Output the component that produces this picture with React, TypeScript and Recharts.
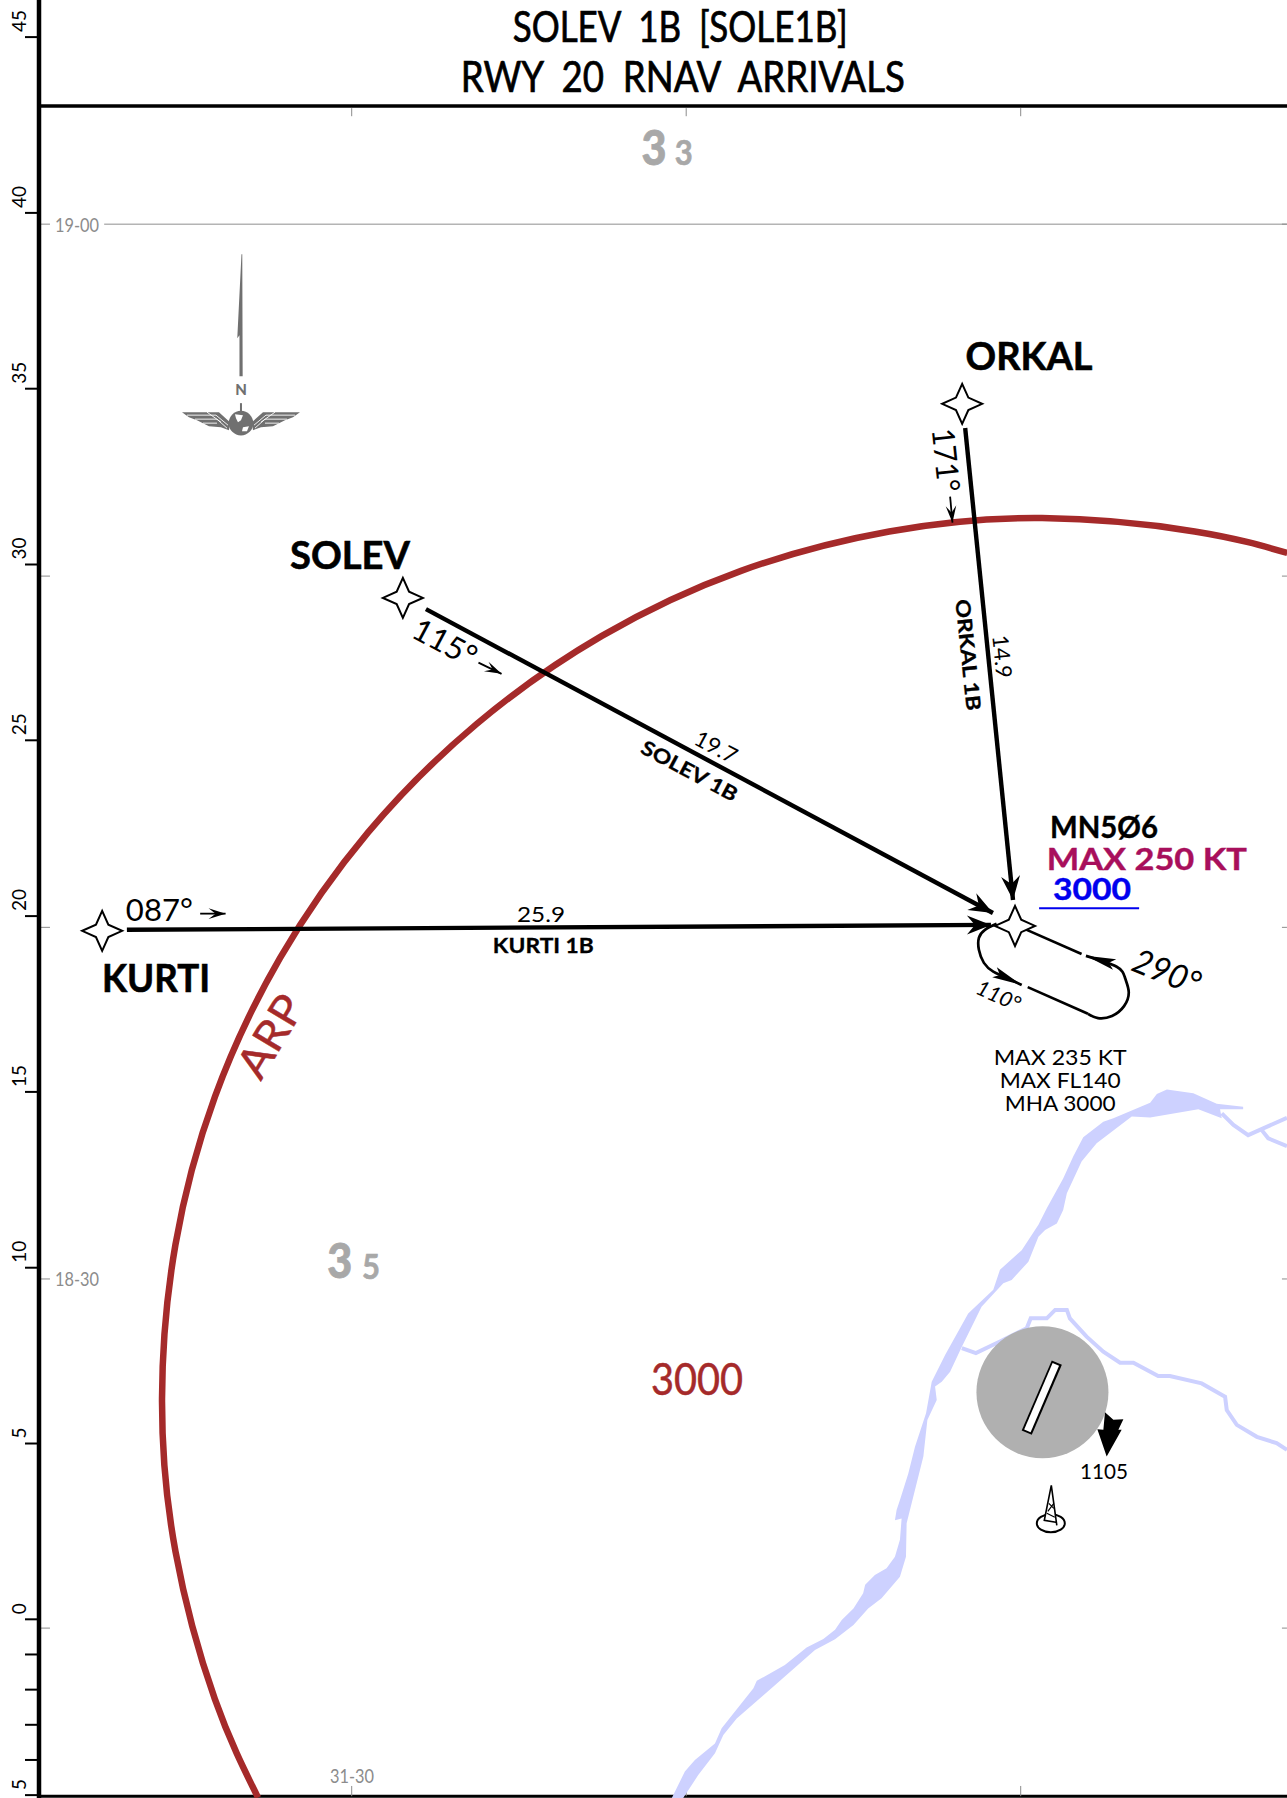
import { ComposedChart, Line, ReferenceLine, Scatter, XAxis, YAxis } from "recharts";

// x is minutes of longitude east of 31-00, y is the NM ruler on the left edge
const xDomain = [20.652, 57.961];
const yDomain = [-5.082, 46.055];
const rulerTicks = [45, 40, 35, 30, 25, 20, 15, 10, 5, 0, -1, -2, -3, -4, -5];
const latTicks = [39.68, 29.67, 19.68, 9.68, -0.25];
const lonTicks = [30, 40, 50];

const arpArc = [
  { x: 57.97, y: 30.33 }, { x: 55.2, y: 30.94 }, { x: 50.64, y: 31.32 }, { x: 46.07, y: 30.94 },
  { x: 41.64, y: 29.82 }, { x: 37.48, y: 27.97 }, { x: 33.73, y: 25.46 }, { x: 30.49, y: 22.38 },
  { x: 27.86, y: 18.81 }, { x: 25.91, y: 14.86 }, { x: 24.73, y: 10.65 }, { x: 24.33, y: 6.29 },
  { x: 24.73, y: 1.94 }, { x: 25.91, y: -2.27 }, { x: 27.2, y: -5.07 },
];

const fixes = [
  { name: "ORKAL", x: 48.25, y: 34.57 },
  { name: "SOLEV", x: 31.53, y: 29.05 },
  { name: "KURTI", x: 22.54, y: 19.58 },
  { name: "MN506", x: 49.83, y: 19.72 },
];

const orkalLeg = [{ x: 48.34, y: 33.88 }, { x: 49.77, y: 20.46 }];
const solevLeg = [{ x: 32.22, y: 28.73 }, { x: 49.17, y: 20.09 }];
const kurtiLeg = [{ x: 23.28, y: 19.61 }, { x: 49.11, y: 19.75 }];
const legTips = [
  { x: 49.77, y: 20.46, heading: 84.2 },
  { x: 49.17, y: 20.09, heading: 28.2 },
  { x: 49.11, y: 19.75, heading: -0.3 },
];

const holdInbound = [{ x: 50.13, y: 19.63 }, { x: 51.82, y: 18.92 }];
const holdEastTurn = [
  { x: 51.95, y: 18.87 }, { x: 52.87, y: 18.56 }, { x: 53.12, y: 18.24 }, { x: 53.23, y: 17.84 },
  { x: 53.09, y: 17.44 }, { x: 52.73, y: 17.16 }, { x: 52.31, y: 17.1 }, { x: 52.01, y: 17.22 },
];
const holdOutbound = [{ x: 52.01, y: 17.22 }, { x: 50.21, y: 17.98 }];
const holdWestTurn = [
  { x: 50.03, y: 18.04 }, { x: 49.53, y: 18.27 }, { x: 49.18, y: 18.42 }, { x: 48.9, y: 18.67 },
  { x: 48.75, y: 19.04 }, { x: 48.75, y: 19.38 }, { x: 48.93, y: 19.61 }, { x: 49.28, y: 19.78 },
];
const holdTips = [
  { x: 51.95, y: 18.87, heading: 197 },
  { x: 50.03, y: 18.04, heading: 25 },
];

const bearingArrows = [
  [{ x: 25.47, y: 20.07 }, { x: 26.23, y: 20.07 }],
  [{ x: 33.79, y: 27.21 }, { x: 34.48, y: 26.89 }],
  [{ x: 47.89, y: 31.93 }, { x: 47.96, y: 31.19 }],
];
const bearingTips = [
  { x: 26.23, y: 20.07, heading: 0 },
  { x: 34.48, y: 26.89, heading: 25.8 },
  { x: 47.96, y: 31.19, heading: 85 },
];

const altitudeBar = [{ x: 50.55, y: 20.22 }, { x: 53.54, y: 20.22 }];
const airport = [{ x: 50.65, y: 6.46 }];
const runwayEdge = [{ x: 51.08, y: 7.3 }, { x: 50.18, y: 5.31 }];
const runwayFill = [{ x: 51.05, y: 7.25 }, { x: 50.2, y: 5.36 }];
const spotHeight = [{ x: 52.57, y: 4.63 }];
const mast = [{ x: 50.9, y: 2.73 }];
const northMark = [{ x: 26.69, y: 34.02 }];

const riverOutline = [
  [56.65, 14.58], [55.86, 14.66], [55.16, 14.96], [54.37, 15.07], [54.07, 14.94], [53.87, 14.69],
  [52.77, 14.25], [52.47, 14.15], [51.87, 13.71], [51.57, 13.16], [51.27, 12.54], [50.78, 11.69],
  [50.53, 11.22], [50.03, 10.5], [49.38, 9.94], [49.18, 9.37], [48.43, 8.7], [47.74, 7.52],
  [47.34, 6.76], [47.17, 5.86], [46.84, 4.91], [46.64, 4.15], [46.39, 3.39], [46.29, 3.11], [46.24, 2.82],
  [46.44, 2.87], [46.39, 2.26], [46.24, 1.78], [45.99, 1.45], [45.64, 1.26], [45.35, 0.98],
  [45.29, 0.74], [45.0, 0.31], [44.65, -0.02], [44.45, -0.3], [44.1, -0.56], [43.6, -0.8],
  [42.95, -1.3], [42.11, -1.75], [42.01, -1.96], [41.06, -3.1], [40.86, -3.53], [40.26, -4.0],
  [39.96, -4.33], [39.57, -5.08], [39.91, -5.08], [40.36, -4.43], [40.86, -3.81], [41.11, -3.29],
  [41.51, -2.82], [42.6, -1.92], [43.85, -0.87], [44.45, -0.57], [45.0, -0.16], [45.44, 0.31],
  [45.84, 0.6], [46.39, 1.21], [46.57, 1.78], [46.59, 2.73], [47.09, 4.63], [47.21, 5.67],
  [47.49, 6.24], [47.44, 6.62], [47.64, 6.76], [47.89, 7.04], [48.24, 7.75], [48.83, 8.89],
  [49.48, 9.56], [49.73, 9.65], [50.23, 10.17], [50.53, 10.88], [50.73, 11.07], [51.08, 11.26],
  [51.27, 11.64], [51.38, 12.12], [51.82, 13.02], [52.27, 13.54], [53.32, 14.3], [53.87, 14.27],
  [55.31, 14.51], [56.01, 14.25], [55.96, 14.51], [56.65, 14.51],
].map(([x, y]) => ({ x, y }));

const riverBranches = [
  [[56.01, 14.39], [56.36, 14.06], [56.8, 13.77], [57.15, 13.92], [57.96, 14.26]],
  [[57.2, 13.92], [57.4, 13.68], [57.96, 13.46]],
  [
    [48.24, 7.71], [48.66, 7.57], [49.38, 7.9], [50.18, 8.28], [50.3, 8.56], [50.78, 8.56], [51.03, 8.8],
    [51.38, 8.8], [51.47, 8.56], [51.97, 8.04], [52.47, 7.61], [52.97, 7.3], [53.37, 7.3], [54.11, 6.92],
    [54.46, 6.92], [55.41, 6.71], [56.11, 6.33], [56.16, 5.95], [56.46, 5.53], [57.06, 5.19], [57.65, 5.01],
    [57.96, 4.82],
  ],
].map((branch) => branch.map(([x, y]) => ({ x, y })));

const notes = [
  { text: "SOLEV  1B  [SOLE1B]", x: 39.82, y: 45.29, kind: "title", w: 335 },
  { text: "RWY  20  RNAV  ARRIVALS", x: 39.9, y: 43.87, kind: "title", w: 444 },
  { text: "3", x: 39.04, y: 41.86, kind: "msaBig", w: 25 },
  { text: "3", x: 39.93, y: 41.72, kind: "msaSmall", w: 18 },
  { text: "3", x: 29.64, y: 10.19, kind: "msaBig", w: 25 },
  { text: "5", x: 30.58, y: 10.03, kind: "msaSmall", w: 18 },
  { text: "3000", x: 40.32, y: 6.83, kind: "arpAlt", w: 92 },
  { text: "ARP", x: 27.56, y: 16.59, kind: "arp", w: 88, rot: -59 },
  { text: "SOLEV", x: 29.95, y: 30.26, kind: "fix", w: 120 },
  { text: "KURTI", x: 24.15, y: 18.23, kind: "fix", w: 108 },
  { text: "ORKAL", x: 50.25, y: 35.93, kind: "fix", w: 127 },
  { text: "087°", x: 24.25, y: 20.19, kind: "bearing", w: 67 },
  { text: "115°", x: 32.79, y: 27.78, kind: "bearing", w: 68, rot: 28 },
  { text: "171°", x: 47.77, y: 32.97, kind: "bearing", w: 64, rot: 84 },
  { text: "14.9", x: 49.45, y: 27.38, kind: "dist", w: 43, rot: 84 },
  { text: "ORKAL 1B", x: 48.43, y: 27.43, kind: "leg", w: 112, rot: 84 },
  { text: "19.7", x: 40.89, y: 24.81, kind: "dist", w: 45, rot: 28 },
  { text: "SOLEV 1B", x: 40.1, y: 24.13, kind: "leg", w: 106, rot: 28 },
  { text: "25.9", x: 35.66, y: 20.06, kind: "dist", w: 48 },
  { text: "KURTI 1B", x: 35.73, y: 19.15, kind: "leg", w: 101 },
  { text: "MN5Ø6", x: 52.49, y: 22.52, kind: "fixSmall", w: 108 },
  { text: "MAX 250 KT", x: 53.77, y: 21.64, kind: "speed", w: 200 },
  { text: "3000", x: 52.13, y: 20.77, kind: "alt", w: 78 },
  { text: "290°", x: 54.37, y: 18.42, kind: "holdBig", w: 70, rot: 22 },
  { text: "110°", x: 49.34, y: 17.74, kind: "holdSmall", w: 46, rot: 24 },
  { text: "MAX 235 KT", x: 51.18, y: 15.99, kind: "limit", w: 133 },
  { text: "MAX FL140", x: 51.18, y: 15.35, kind: "limit", w: 121 },
  { text: "MHA 3000", x: 51.18, y: 14.69, kind: "limit", w: 111 },
  { text: "1105", x: 52.49, y: 4.22, kind: "limit", w: 48 },
  { text: "19-00", x: 21.79, y: 39.66, kind: "grid", w: 44 },
  { text: "18-30", x: 21.79, y: 9.68, kind: "grid", w: 44 },
  { text: "31-30", x: 30.01, y: -4.46, kind: "grid", w: 44 },
];

const BROWN = "#a52a2a";
const RIVER = "#cdd1ff";
const GRATICULE = "#8c8c8c";
const SANS = "Lato, 'Open Sans', sans-serif";

const noteStyles: Record<string, any> = {
  title: { size: 42, weight: 400, fill: "#000", stroke: 0.7 },
  msaBig: { size: 48, weight: 900, fill: "#a8a8a8", stroke: 0.8 },
  msaSmall: { size: 34, weight: 700, fill: "#a8a8a8", stroke: 0.6 },
  arpAlt: { size: 44, weight: 400, fill: BROWN, stroke: 0.5 },
  arp: { size: 43, weight: 400, fill: BROWN, stroke: 0.5 },
  fix: { size: 38, weight: 700, fill: "#000", stroke: 0.6 },
  fixSmall: { size: 30, weight: 700, fill: "#000", stroke: 0.4 },
  bearing: { size: 31, weight: 400, fill: "#000" },
  dist: { size: 22, weight: 400, fill: "#000" },
  leg: { size: 20, weight: 700, fill: "#000", stroke: 0.3 },
  speed: { size: 31, weight: 700, fill: "#a80f5c", stroke: 0.4 },
  alt: { size: 31, weight: 700, fill: "#0000ee", stroke: 0.4 },
  holdBig: { size: 34, weight: 400, fill: "#000", italic: true },
  holdSmall: { size: 21, weight: 400, fill: "#000", italic: true },
  limit: { size: 22, weight: 400, fill: "#000" },
  grid: { size: 19, weight: 400, fill: GRATICULE },
};

function NoteShape(props: any) {
  const { cx, cy, payload } = props;
  const style = noteStyles[payload.kind];
  return (
    <text
      x={cx}
      y={cy}
      dy={style.size * 0.36}
      transform={payload.rot ? `rotate(${payload.rot} ${cx} ${cy})` : undefined}
      textAnchor="middle"
      textLength={payload.w}
      lengthAdjust="spacingAndGlyphs"
      fontFamily={SANS}
      fontSize={style.size}
      fontWeight={style.weight}
      fontStyle={style.italic ? "italic" : "normal"}
      fill={style.fill}
      stroke={style.stroke ? style.fill : "none"}
      strokeWidth={style.stroke ?? 0}
      style={{ whiteSpace: "pre" }}
    >
      {payload.text}
    </text>
  );
}

function RulerTick(props: any) {
  const { x, y, payload } = props;
  const value = payload.value;
  if (value % 5 !== 0) return <g />;
  return (
    <text
      transform={`translate(${x - 6.5} ${y - 5}) rotate(-90)`}
      dy={7}
      fontFamily={SANS}
      fontSize={19}
      fill="#000"
    >
      {Math.abs(value)}
    </text>
  );
}

function StarShape(props: any) {
  const { cx, cy } = props;
  const r = 20;
  const k = 6.2;
  return (
    <polygon
      transform={`translate(${cx} ${cy})`}
      points={`0,${-r} ${k},${-k} ${r},0 ${k},${k} 0,${r} ${-k},${k} ${-r},0 ${-k},${-k}`}
      fill="#fff"
      stroke="#000"
      strokeWidth={2}
      strokeLinejoin="miter"
    />
  );
}

function arrowHead(length: number, half: number, notch: number) {
  return function ArrowHead(props: any) {
    const { cx, cy, payload } = props;
    return (
      <polygon
        transform={`translate(${cx} ${cy}) rotate(${payload.heading})`}
        points={`0,0 ${-length},${-half} ${-notch},0 ${-length},${half}`}
        fill="#000"
      />
    );
  };
}

function AirportShape(props: any) {
  return <circle cx={props.cx} cy={props.cy} r={66} fill="#b0b0b0" />;
}

function SpotHeightShape(props: any) {
  return (
    <polygon
      transform={`translate(${props.cx} ${props.cy})`}
      points="-1.7,-44.3 6.7,-36.7 16.7,-37.3 11.7,-26.7 15,-26.7 0,0 -9.3,-27.3 -3.3,-26.7"
      fill="#000"
    />
  );
}

function MastShape(props: any) {
  return (
    <g transform={`translate(${props.cx} ${props.cy})`} fill="none" stroke="#000">
      <ellipse cx={0} cy={0} rx={14} ry={9} strokeWidth={2} />
      <path d="M0.5 -38L-6.5 -3L5 -1M0.5 -38L6 2" strokeWidth={1.6} fill="#fff" />
      <path d="M-2 -20L3 -15M3 -20L-3 -12M-4 -10L4 -6" strokeWidth={1.2} />
    </g>
  );
}

function NorthShape(props: any) {
  const wing = "M-59 -11L-22 -11L-11 -1L-12 7L-20 4L-32 3L-44 -3L-52 -6Z";
  return (
    <g transform={`translate(${props.cx} ${props.cy})`} fill="#707070">
      <polygon points="1.3,-169 1.7,-47 -1.5,-47 -1.5,-88 -3.7,-85 0.5,-169" />
      <text x={0} y={-28} textAnchor="middle" fontFamily={SANS} fontWeight={900} fontSize={15}>N</text>
      <rect x={-1} y={-20} width={2} height={10} />
      <path d={wing} />
      <path d={wing} transform="scale(-1 1)" />
      <g stroke="#fff" strokeWidth={0.9} fill="none">
        <path d="M-54 -8L-25 -8L-13 2M-46 -4L-24 -4L-14 5M-38 0L-24 0M-34 -11L-20 -1" />
        <path d="M54 -8L25 -8L13 2M46 -4L24 -4L14 5M38 0L24 0M34 -11L20 -1" />
      </g>
      <circle cx={0} cy={0} r={12.3} />
      <path d="M-6 -9L2 -8L0 -3L-3 -1L-5 -5ZM2 4L8 3L6 8L1 8Z" fill="#fff" />
    </g>
  );
}

// a Line has no fill of its own, so the last dot closes the outline into one polygon
function outlineDot(fill: string, count: number) {
  const seen: string[] = [];
  return (props: any) => {
    seen[props.index] = `${props.cx},${props.cy}`;
    if (props.index !== count - 1) return <g key={props.index} />;
    return <polygon key="outline" points={seen.join(" ")} fill={fill} stroke="none" />;
  };
}

function Stroke(props: any) {
  return (
    <Line
      data={props.data}
      dataKey="y"
      type={props.type ?? "linear"}
      stroke={props.stroke ?? "#000"}
      strokeWidth={props.width}
      dot={false}
      activeDot={false}
      legendType="none"
      isAnimationActive={false}
      zIndex={props.zIndex}
    />
  );
}

export default function App() {
  return (
    <div style={{ position: "absolute", left: 0, top: 0, width: 1287, height: 1798, background: "#fff", overflow: "hidden" }}>
      <ComposedChart width={1287} height={1798} margin={{ top: 0, right: 0, bottom: 0, left: 0 }}>
        <XAxis type="number" dataKey="x" domain={xDomain} allowDataOverflow hide />
        <YAxis
          type="number"
          dataKey="y"
          domain={yDomain}
          allowDataOverflow
          ticks={rulerTicks}
          interval={0}
          width={39}
          tickSize={14}
          tickMargin={0}
          axisLine={{ stroke: "#000", strokeWidth: 4.5 }}
          tickLine={{ stroke: "#000", strokeWidth: 2 }}
          tick={RulerTick}
        />

        <Line
          data={riverOutline}
          dataKey="y"
          stroke="none"
          dot={outlineDot(RIVER, riverOutline.length)}
          activeDot={false}
          legendType="none"
          isAnimationActive={false}
        />
        {riverBranches.map((branch) => Stroke({ data: branch, stroke: RIVER, width: 4 }))}

        <ReferenceLine y={43.04} stroke="#000" strokeWidth={3.5} />
        <ReferenceLine y={-5.03} stroke="#000" strokeWidth={3} />
        {Stroke({ data: [{ x: 22.6, y: 39.68 }, { x: 57.96, y: 39.68 }], stroke: "#b4b4b4", width: 1.5 })}
        {latTicks.map((lat) => Stroke({ data: [{ x: 20.71, y: lat }, { x: 20.98, y: lat }], stroke: GRATICULE, width: 1 }))}
        {latTicks.map((lat) => Stroke({ data: [{ x: 57.81, y: lat }, { x: 57.96, y: lat }], stroke: GRATICULE, width: 1 }))}
        {lonTicks.map((lon) => Stroke({ data: [{ x: lon, y: 42.98 }, { x: lon, y: 42.75 }], stroke: GRATICULE, width: 1 }))}
        {lonTicks.map((lon) => Stroke({ data: [{ x: lon, y: -4.74 }, { x: lon, y: -5.03 }], stroke: GRATICULE, width: 1 }))}

        {Stroke({ data: arpArc, type: "natural", stroke: BROWN, width: 6.5 })}

        {Stroke({ data: orkalLeg, width: 4.4 })}
        {Stroke({ data: solevLeg, width: 4.4 })}
        {Stroke({ data: kurtiLeg, width: 4.4 })}
        {Stroke({ data: holdInbound, width: 2.7 })}
        {Stroke({ data: holdEastTurn, type: "natural", width: 2.7 })}
        {Stroke({ data: holdOutbound, width: 2.7 })}
        {Stroke({ data: holdWestTurn, type: "natural", width: 2.7 })}
        {bearingArrows.map((arrow) => Stroke({ data: arrow, width: 1.8 }))}
        {Stroke({ data: altitudeBar, stroke: "#0000ee", width: 2 })}

        <Scatter data={airport} shape={AirportShape} isAnimationActive={false} legendType="none" />
        {Stroke({ data: runwayEdge, width: 11, zIndex: 700 })}
        {Stroke({ data: runwayFill, stroke: "#fff", width: 7, zIndex: 701 })}
        <Scatter data={spotHeight} shape={SpotHeightShape} isAnimationActive={false} legendType="none" />
        <Scatter data={mast} shape={MastShape} isAnimationActive={false} legendType="none" />
        <Scatter data={northMark} shape={NorthShape} isAnimationActive={false} legendType="none" />

        <Scatter data={legTips} shape={arrowHead(24, 9.5, 16)} isAnimationActive={false} legendType="none" />
        <Scatter data={holdTips} shape={arrowHead(30, 5.5, 24)} isAnimationActive={false} legendType="none" />
        <Scatter data={bearingTips} shape={arrowHead(17, 5.3, 10)} isAnimationActive={false} legendType="none" />
        <Scatter data={fixes} shape={StarShape} isAnimationActive={false} legendType="none" />
        <Scatter data={notes} shape={NoteShape} isAnimationActive={false} legendType="none" />
      </ComposedChart>
    </div>
  );
}
